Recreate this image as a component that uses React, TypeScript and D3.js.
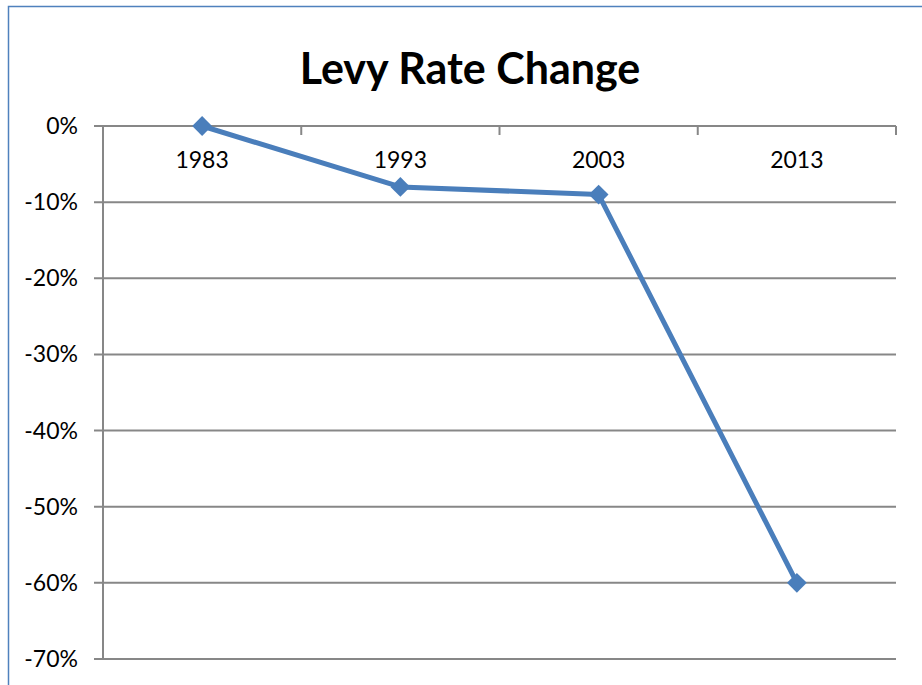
import React, { useEffect, useRef } from 'react';
import * as d3 from 'd3';

const years = ['1983', '1993', '2003', '2013'];
const levyChange = [0, -8, -9, -60];
const yTicks = [0, -10, -20, -30, -40, -50, -60, -70];

const W = 922;
const H = 685;

export default function App() {
  const svgRef = useRef<SVGSVGElement>(null);

  useEffect(() => {
    if (!svgRef.current) return;
    const svg = d3.select(svgRef.current);
    svg.selectAll('*').remove();

    const left = 103;
    const right = 896;
    const top = 126;
    const bottom = 659;
    const font = 'Lato, "Open Sans", sans-serif';

    // outer chart frame
    svg
      .append('rect')
      .attr('x', 8.5)
      .attr('y', 6.5)
      .attr('width', W + 20)
      .attr('height', H + 20)
      .attr('fill', '#fff')
      .attr('stroke', '#4F81BD')
      .attr('stroke-width', 1.5);

    svg
      .append('text')
      .attr('x', 470)
      .attr('y', 84)
      .attr('text-anchor', 'middle')
      .style('font-family', font)
      .style('font-weight', 'bold')
      .style('font-size', '43px')
      .text('Levy Rate Change');

    const x = d3.scaleBand<string>().domain(years).range([left, right]).padding(0);
    const y = d3.scaleLinear().domain([0, -70]).range([top, bottom]);

    const grey = '#878787';

    // horizontal gridlines
    svg
      .append('g')
      .selectAll('line')
      .data(yTicks)
      .enter()
      .append('line')
      .attr('x1', left - 9)
      .attr('x2', right)
      .attr('y1', d => y(d))
      .attr('y2', d => y(d))
      .attr('stroke', grey)
      .attr('stroke-width', 2);

    // y axis line
    svg
      .append('line')
      .attr('x1', left)
      .attr('x2', left)
      .attr('y1', top)
      .attr('y2', bottom)
      .attr('stroke', grey)
      .attr('stroke-width', 2);

    // y labels
    svg
      .append('g')
      .selectAll('text')
      .data(yTicks)
      .enter()
      .append('text')
      .attr('x', 78)
      .attr('y', d => y(d))
      .attr('dy', '0.35em')
      .attr('text-anchor', 'end')
      .style('font-family', font)
      .style('font-size', '23px')
      .text(d => `${d}%`);

    // category tick marks on the 0% line
    const boundaries = years.map(d => x(d)!).concat([right]);
    svg
      .append('g')
      .selectAll('line')
      .data(boundaries.slice(1))
      .enter()
      .append('line')
      .attr('x1', d => d)
      .attr('x2', d => d)
      .attr('y1', y(0))
      .attr('y2', y(0) + 9)
      .attr('stroke', grey)
      .attr('stroke-width', 2);

    // category labels
    svg
      .append('g')
      .selectAll('text')
      .data(years)
      .enter()
      .append('text')
      .attr('x', d => x(d)! + x.bandwidth() / 2)
      .attr('y', 168)
      .attr('text-anchor', 'middle')
      .style('font-family', font)
      .style('font-size', '23px')
      .text(d => d);

    const pts = years.map((d, i) => [x(d)! + x.bandwidth() / 2, y(levyChange[i])] as [number, number]);

    svg
      .append('path')
      .attr('d', d3.line()(pts))
      .attr('fill', 'none')
      .attr('stroke', '#4A7EBB')
      .attr('stroke-width', 5)
      .attr('stroke-linejoin', 'round');

    svg
      .append('g')
      .selectAll('path')
      .data(pts)
      .enter()
      .append('path')
      .attr('transform', d => `translate(${d[0]},${d[1]})`)
      .attr('d', d3.symbol(d3.symbolDiamond2, 250)())
      .attr('fill', '#4A7EBB');
  }, []);

  return (
    <svg
      ref={svgRef}
      width={W}
      height={H}
      style={{ position: 'absolute', left: 0, top: 0, background: '#fff' }}
    />
  );
}
